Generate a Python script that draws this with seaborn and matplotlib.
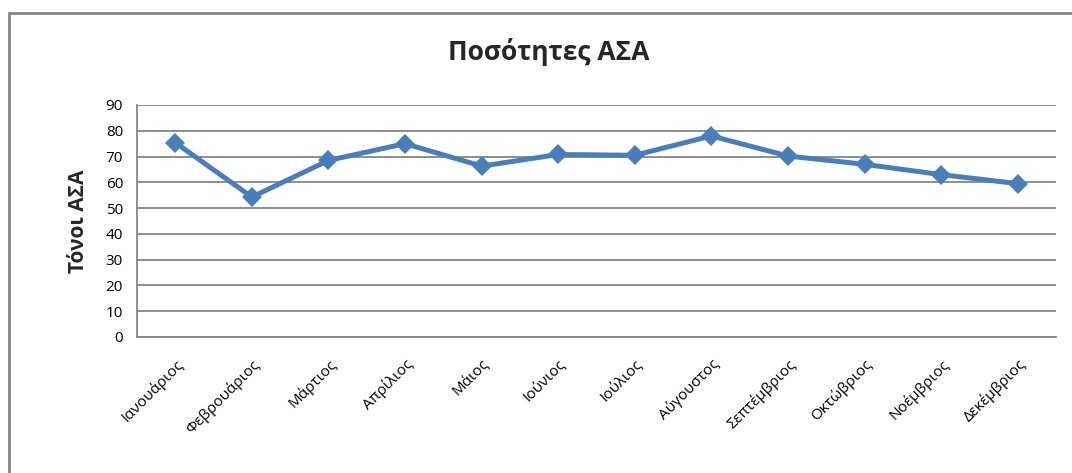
import pandas as pd
import matplotlib
matplotlib.use("Agg")
import matplotlib.pyplot as plt
import seaborn as sns
from matplotlib.patches import Rectangle

months = ["Ιανουάριος", "Φεβρουάριος", "Μάρτιος", "Απρίλιος", "Μάιος", "Ιούνιος",
          "Ιούλιος", "Αύγουστος", "Σεπτέμβριος", "Οκτώβριος", "Νοέμβριος", "Δεκέμβριος"]
tonnes = [75.4, 54.3, 68.5, 75.0, 66.3, 70.8, 70.5, 78.0, 70.2, 67.0, 63.0, 59.5]
y_ticks = [0, 10, 20, 30, 40, 50, 60, 70, 80, 90]

df = pd.DataFrame({"month": months, "tonnes": tonnes})

sns.set_style("white")
plt.rcParams["font.family"] = ["Open Sans", "DejaVu Sans"]

fig = plt.figure(figsize=(10.72, 4.73), dpi=100)
ax = fig.add_axes([137/1072, 1-337/473, (1056-137)/1072, (337-105)/473])

blue = "#4A7EBB"
grey = "#868686"

sns.lineplot(data=df, x="month", y="tonnes", ax=ax, sort=False, color=blue,
             linewidth=3.6, marker="D", markersize=10, markeredgewidth=0)

ax.set_xlim(-0.5, len(months) - 0.5)
ax.set_ylim(0, 90)
ax.set_yticks(y_ticks)
ax.yaxis.grid(True, color=grey, linewidth=1.3)
ax.set_axisbelow(True)
for side in ["top", "right"]:
    ax.spines[side].set_visible(False)
ax.spines["left"].set_color(grey)
ax.spines["bottom"].set_color(grey)
ax.spines["left"].set_linewidth(1.3)
ax.spines["bottom"].set_linewidth(1.3)
ax.tick_params(axis="both", length=0, labelsize=11, colors="black")
ax.tick_params(axis="y", pad=10)
ax.set_xticks(range(len(months)))
ax.set_xticklabels(months, rotation=45, ha="right", rotation_mode="anchor")
ax.tick_params(axis="x", pad=14)
ax.set_xlabel("")
ax.set_ylabel("Τόνοι ΑΣΑ", fontsize=15, fontweight="bold", labelpad=12)

fig.text(549/1072, 1-52/473, "Ποσότητες ΑΣΑ", ha="center", va="center",
         fontsize=19, fontweight="bold")

fig.add_artist(Rectangle((9/1072, -0.5), 2, 1.5 - 13/473, transform=fig.transFigure,
                         fill=False, edgecolor=grey, linewidth=2))

fig.savefig("out.png", dpi=100)
